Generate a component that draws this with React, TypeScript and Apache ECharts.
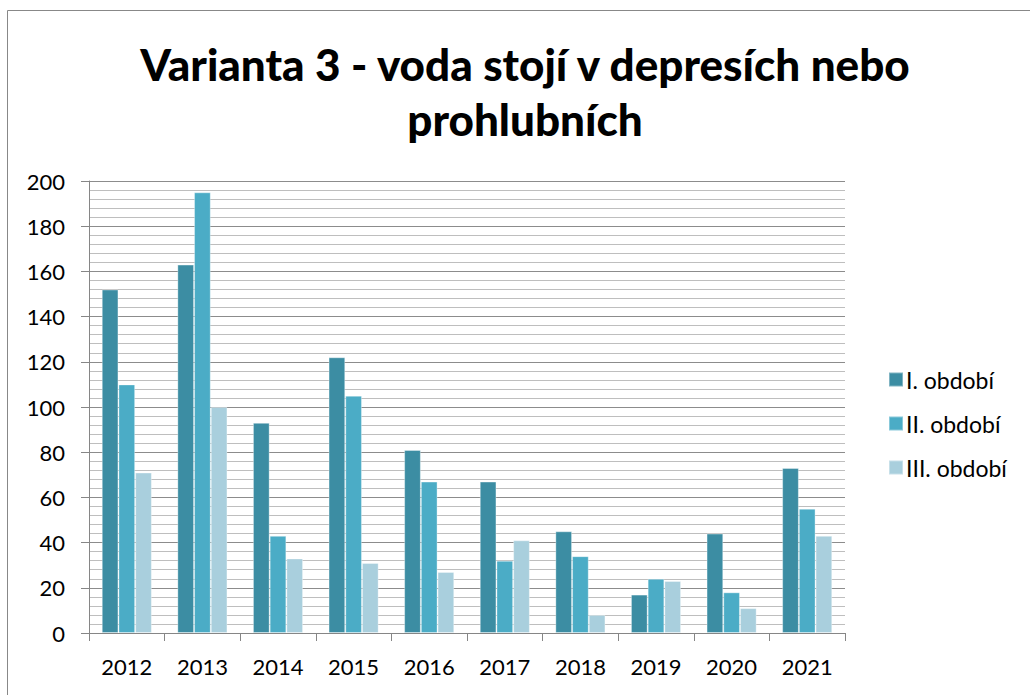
import React, { useEffect, useRef } from "react";
import * as echarts from "echarts";

const years = ["2012", "2013", "2014", "2015", "2016", "2017", "2018", "2019", "2020", "2021"];
const seriesNames = ["I. období", "II. období", "III. období"];
const period1 = [152, 163, 93, 122, 81, 67, 45, 17, 44, 73];
const period2 = [110, 195, 43, 105, 67, 32, 34, 24, 18, 55];
const period3 = [71, 100, 33, 31, 27, 41, 8, 23, 11, 43];
const colors = ["#3C8DA3", "#4BACC6", "#A9CFDD"];
const titleText = "Varianta 3 - voda stojí v depresích nebo\nprohlubních";

const FONT = "Lato, 'Noto Sans', sans-serif";

export default function App() {
  const ref = useRef<HTMLDivElement>(null);
  useEffect(() => {
    if (!ref.current) return;
    const chart = echarts.init(ref.current, null, { renderer: "svg" });
    const data = [period1, period2, period3];
    chart.setOption({
      animation: false,
      backgroundColor: "#ffffff",
      color: colors,
      textStyle: { fontFamily: FONT },
      title: {
        text: titleText,
        left: 525,
        textAlign: "center",
        top: 36,
        padding: 0,
        textStyle: {
          fontFamily: FONT,
          fontSize: 44,
          fontWeight: 900,
          color: "#000",
          lineHeight: 55,
        },
      },
      graphic: [
        {
          type: "rect",
          shape: { x: 7.5, y: 10.5, width: 1100, height: 800 },
          style: { fill: "none", stroke: "#888888", lineWidth: 1 },
          silent: true,
          z: 100,
        },
      ],
      legend: {
        orient: "vertical",
        left: 883,
        top: 363,
        itemWidth: 14,
        itemHeight: 14,
        itemGap: 21,
        icon: "rect",
        textStyle: { fontFamily: FONT, fontSize: 23, color: "#000", padding: [0, 0, 0, -2] },
        data: seriesNames,
      },
      grid: { left: 89, right: 185, top: 181, bottom: 62, containLabel: false },
      xAxis: {
        type: "category",
        data: years,
        axisLine: { lineStyle: { color: "#868686", width: 1 } },
        axisTick: { show: true, length: 8, lineStyle: { color: "#868686" } },
        axisLabel: { fontFamily: FONT, fontSize: 22, color: "#000", margin: 22 },
      },
      yAxis: {
        type: "value",
        min: 0,
        max: 200,
        interval: 20,
        axisLine: { show: true, lineStyle: { color: "#868686", width: 1 } },
        axisTick: { show: true, length: 8, lineStyle: { color: "#868686" } },
        axisLabel: { fontFamily: FONT, fontSize: 22, color: "#000", margin: 24 },
        splitLine: { show: true, lineStyle: { color: "#8C8C8C", width: 1.2 } },
        minorTick: { show: false, splitNumber: 5 },
        minorSplitLine: { show: true, lineStyle: { color: "#BEBEBE", width: 1.2 } },
      },
      series: seriesNames.map((name, i) => ({
        name,
        type: "bar",
        data: data[i],
        barWidth: 16.7,
        barGap: "0%",
        itemStyle: {
          color: colors[i],
          borderColor: "rgba(255,255,255,0.35)",
          borderWidth: 1,
        },
      })),
    });
    return () => chart.dispose();
  }, []);
  return (
    <div
      ref={ref}
      style={{ position: "fixed", left: 0, top: 0, width: 1030, height: 695 }}
    />
  );
}
